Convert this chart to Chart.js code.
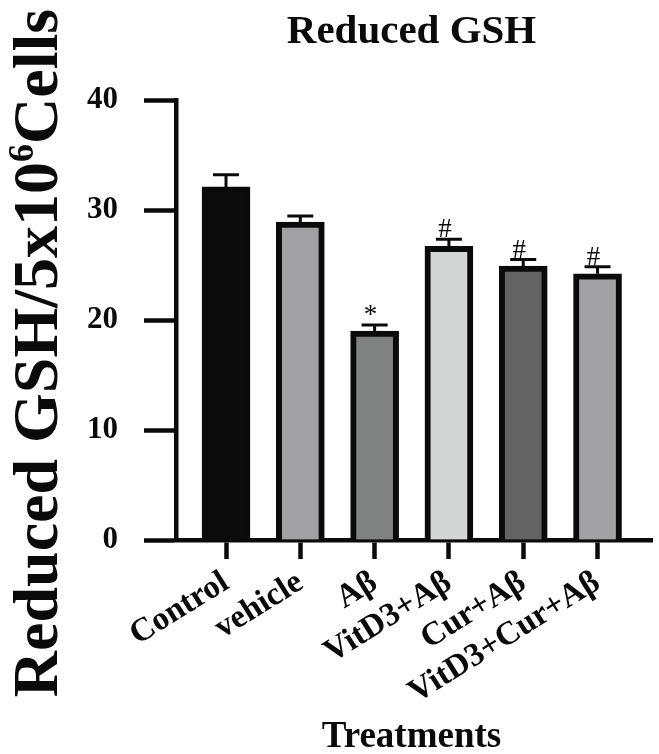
<!DOCTYPE html>
<html>
<head>
<meta charset="utf-8">
<title>Reduced GSH</title>
<script src="https://cdn.jsdelivr.net/npm/chart.js@4.4.1/dist/chart.umd.min.js"></script>
<style>
  html, body { margin: 0; padding: 0; background: #fff; }
  #wrap { width: 659px; height: 754px; }
</style>
</head>
<body>
<div id="wrap"><canvas id="gsh-chart" width="659" height="754"></canvas></div>
<script>
// data (GSH / 5x10^6 cells, mean ± SEM)
const TREATMENTS = ['Control', 'vehicle', 'Aβ', 'VitD3+Aβ', 'Cur+Aβ', 'VitD3+Cur+Aβ'];
const GSH_MEAN   = [32.1, 28.9, 19.0, 26.7, 24.9, 24.2];
const GSH_SEM    = [1.1, 0.55, 0.55, 0.65, 0.6, 0.65];
const SIG_MARKS  = ['', '', '*', '#', '#', '#'];
const Y_TICKS    = [0, 10, 20, 30, 40];

const BAR_FILLS = ['#0b0b0b', '#a1a1a3', '#808281', '#d4d5d5', '#636463', '#a2a2a4'];
const INK   = '#0a0a0a';
const SERIF = '"Liberation Serif", "Times New Roman", Times, serif';

// error bars + significance marks, drawn through the scales
const errorBars = {
  id: 'errorBars',
  afterDatasetsDraw(chart) {
    const { ctx, scales: { x, y } } = chart;
    ctx.save();
    ctx.strokeStyle = INK;
    ctx.fillStyle = INK;
    ctx.lineWidth = 3;
    ctx.font = `27px ${SERIF}`;
    ctx.textAlign = 'center';
    ctx.textBaseline = 'alphabetic';
    GSH_MEAN.forEach((m, i) => {
      const px = x.getPixelForValue(i);
      const yBase = y.getPixelForValue(m);
      const yTop = y.getPixelForValue(m + GSH_SEM[i]);
      ctx.beginPath();
      ctx.moveTo(px, yBase);
      ctx.lineTo(px, yTop);
      ctx.moveTo(px - 13, yTop);
      ctx.lineTo(px + 13, yTop);
      ctx.stroke();
      if (SIG_MARKS[i]) ctx.fillText(SIG_MARKS[i], px - 4, yTop - 2);
    });
    ctx.restore();
  }
};

// titles (main, x, rotated y with superscript)
const titles = {
  id: 'titles',
  afterDraw(chart) {
    const { ctx } = chart;
    ctx.save();
    ctx.fillStyle = INK;
    ctx.textBaseline = 'alphabetic';

    ctx.textAlign = 'center';
    ctx.font = `bold 41px ${SERIF}`;
    ctx.fillText('Reduced GSH', 411.5, 43);

    ctx.font = `bold 37px ${SERIF}`;
    ctx.fillText('Treatments', 411.5, 746.5);

    // y title: "Reduced GSH/5x10" + sup "6" + "Cells"
    const big = `bold 64px ${SERIF}`, small = `bold 36px ${SERIF}`;
    const parts = [['Reduced GSH/5x10', big, 0], ['6', small, -24], ['Cells', big, 0]];
    let total = 0;
    parts.forEach(p => { ctx.font = p[1]; total += ctx.measureText(p[0]).width; });
    ctx.translate(57, 353 + total / 2);
    ctx.rotate(-Math.PI / 2);
    ctx.textAlign = 'left';
    let cx = 0;
    parts.forEach(p => {
      ctx.font = p[1];
      ctx.fillText(p[0], cx, p[2]);
      cx += ctx.measureText(p[0]).width;
    });
    ctx.restore();
  }
};

new Chart(document.getElementById('gsh-chart'), {
  type: 'bar',
  data: {
    datasets: [{
      data: GSH_MEAN.map((v, i) => ({ x: i, y: v })),
      backgroundColor: BAR_FILLS,
      borderColor: INK,
      borderWidth: 6,
      barThickness: 48,
    }]
  },
  options: {
    responsive: false,
    animation: false,
    devicePixelRatio: 1,
    layout: { padding: { top: 100, right: 7, left: 0, bottom: 0 } },
    plugins: { legend: { display: false }, tooltip: { enabled: false }, title: { display: false } },
    scales: {
      x: {
        type: 'linear',
        offset: false,
        min: -0.673,
        max: 5.733,
        afterBuildTicks: s => { s.ticks = TREATMENTS.map((_, i) => ({ value: i })); },
        afterFit: s => { s.height = 214; },
        grid: { offset: false, drawOnChartArea: false, tickLength: 19, tickWidth: 4.5, tickColor: INK },
        border: { display: true, width: 4.5, color: INK },
        ticks: {
          autoSkip: false,
          minRotation: 32,
          maxRotation: 32,
          padding: 4,
          color: INK,
          font: { family: SERIF, size: 33, weight: 'bold' },
          callback: v => TREATMENTS[v]
        }
      },
      y: {
        min: 0,
        max: 40,
        afterBuildTicks: s => { s.ticks = Y_TICKS.map(v => ({ value: v })); },
        afterFit: s => { s.width = 176; },
        grid: { drawOnChartArea: false, tickLength: 32, tickWidth: 4.5, tickColor: INK },
        border: { display: true, width: 4.5, color: INK },
        ticks: {
          padding: 26,
          color: INK,
          font: { family: SERIF, size: 31, weight: 'bold' }
        }
      }
    }
  },
  plugins: [errorBars, titles]
});
</script>
</body>
</html>
